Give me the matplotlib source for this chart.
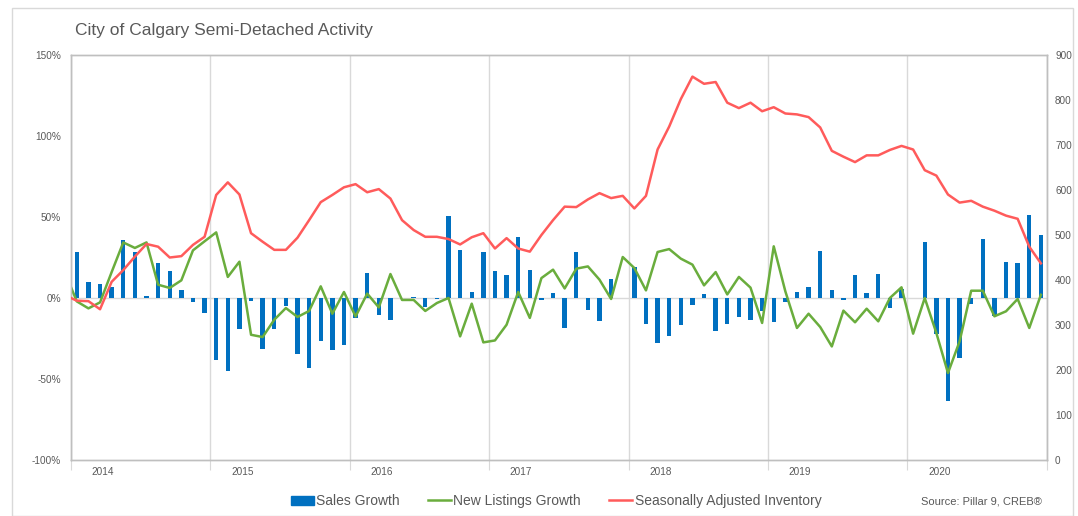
import numpy as np
import matplotlib
matplotlib.use('Agg')
import matplotlib.pyplot as plt
from matplotlib.patches import Patch, Rectangle
from matplotlib.lines import Line2D
from matplotlib.ticker import FuncFormatter

plt.rcParams['font.family'] = ['Liberation Sans', 'DejaVu Sans']

years = [2014, 2015, 2016, 2017, 2018, 2019, 2020]

# monthly sales growth (%), Jan 2014 - Dec 2020
sales_growth = [
    28.4, 10.1, 8.6, 7.0, 35.6, 28.2, 1.4, 21.6, 16.7, 4.7, -2.5, -9.5,
    -38.1, -45.1, -19.4, -1.9, -31.5, -19.0, -5.2, -34.6, -43.2, -26.3, -31.9, -29.3,
    -12.2, 15.6, -10.3, -13.8, 0.0, 0.6, -5.6, -0.5, 50.4, 29.8, 3.7, 28.4,
    16.9, 14.4, 37.4, 17.5, -1.2, 3.1, -18.8, 28.3, -7.1, -14.4, 11.5, 0.0,
    19.1, -15.8, -27.7, -23.6, -16.6, -4.1, 2.6, -20.4, -15.9, -12.0, -13.6, -8.2,
    -15.0, -2.5, 3.4, 7.0, 28.8, 4.9, -1.2, 14.2, 3.1, 15.0, -6.4, 5.7,
    0.0, 34.8, -22.2, -63.8, -36.8, -3.5, 36.4, -11.3, 22.2, 21.4, 51.2, 38.9,
]

# new listings growth (%), Dec 2013 - Dec 2020
new_listings_growth = [
    15.4,
    -2.1, -6.4, -2.7, 16.0, 34.3, 30.9, 34.3, 8.2, 6.2, 10.9, 29.4, 35.0,
    40.5, 13.0, 22.4, -22.7, -24.1, -13.4, -6.2, -11.7, -8.0, 7.2, -9.7, 3.7,
    -11.4, 2.7, -5.8, 14.8, -1.2, -1.2, -8.0, -3.1, 0.0, -23.7, -3.5, -27.4,
    -26.2, -16.5, 3.7, -12.3, 12.3, 17.5, 5.9, 18.1, 19.5, 11.3, -0.6, 25.3,
    18.5, 4.7, 28.4, 30.2, 24.3, 20.6, 7.8, 16.0, 2.2, 13.0, 6.4, -15.4,
    31.9, 4.1, -18.5, -9.7, -17.9, -29.9, -7.8, -15.0, -6.6, -14.4, 0.0, 6.6,
    -22.0, 0.0, -21.6, -46.3, -26.8, 4.5, 4.5, -11.3, -8.2, -0.6, -18.5, 2.0,
]

# seasonally adjusted inventory (units), Dec 2013 - Dec 2020
inventory = [
    366,
    354, 353, 335, 396, 422, 452, 480, 474, 450, 453, 478, 496,
    589, 617, 590, 504, 485, 467, 467, 494, 533, 573, 589, 606,
    613, 595, 602, 581, 533, 511, 496, 496, 491, 479, 495, 504,
    470, 493, 470, 463, 500, 533, 563, 562, 579, 593, 582, 587,
    559, 587, 690, 741, 802, 852, 836, 840, 794, 782, 794, 775,
    784, 770, 768, 762, 739, 687, 674, 662, 677, 677, 689, 698,
    690, 644, 632, 590, 572, 576, 563, 554, 543, 536, 474, 437,
]

W, H = 1078, 516
fig = plt.figure(figsize=(W / 100, H / 100), dpi=100)
ax = fig.add_axes([71 / W, 1 - 460 / H, (1046.7 - 71) / W, (460 - 55) / H])

grey = '#595959'
light = '#d9d9d9'

x_bar = np.arange(len(sales_growth))
x_line = np.arange(-1, len(sales_growth))

ax.bar(x_bar, sales_growth, width=0.38, color='#0070c0', linewidth=0, zorder=2)
ax.axhline(0, color=light, lw=1, zorder=1)
ax.plot(x_line, new_listings_growth, color='#6aad3d', lw=1.8, zorder=3)

ax.set_xlim(-0.5, len(sales_growth) - 0.5)
ax.set_ylim(-100, 150)
ax.set_yticks(np.arange(-100, 151, 50))
ax.yaxis.set_major_formatter(FuncFormatter(lambda v, p: f'{v:.0f}%'))

# year boundaries as major ticks/grid, year names as minor ticks
ax.set_xticks(np.arange(-0.5, len(sales_growth), 12))
ax.set_xticklabels([])
ax.set_xticks([12 * k + 2.25 for k in range(len(years))], minor=True)
ax.set_xticklabels([str(y) for y in years], minor=True)
ax.grid(axis='x', which='major', color=light, lw=1, zorder=0)
ax.tick_params(axis='x', which='major', length=7, color=light)
ax.tick_params(axis='x', which='minor', length=0, pad=5, labelsize=7.2, labelcolor=grey)
ax.tick_params(axis='y', length=0, pad=7, labelsize=7.2, labelcolor=grey)

ax2 = ax.twinx()
ax2.plot(x_line, inventory, color='#ff5b5b', lw=1.8, zorder=3)
ax2.set_ylim(0, 900)
ax2.set_yticks(np.arange(0, 901, 100))
ax2.tick_params(axis='y', length=0, pad=6, labelsize=7.2, labelcolor=grey)

for a in (ax, ax2):
    for s in a.spines.values():
        s.set_color('#bfbfbf')
        s.set_linewidth(1)

fig.text(75 / W, 1 - 31 / H, 'City of Calgary Semi-Detached Activity',
         fontsize=12.5, color=grey, va='center', ha='left')

handles = [Patch(color='#0070c0'),
           Line2D([], [], color='#6aad3d', lw=1.8),
           Line2D([], [], color='#ff5b5b', lw=1.8)]
labels = ['Sales Growth', 'New Listings Growth', 'Seasonally Adjusted Inventory']
fig.legend(handles, labels, loc='center', bbox_to_anchor=(556 / W, 1 - 501 / H),
           ncol=3, frameon=False, fontsize=10, labelcolor=grey,
           handlelength=1.7, handleheight=0.6, handletextpad=0.15, columnspacing=2.0)

fig.text(1042 / W, 1 - 501 / H, 'Source: Pillar 9, CREB\u00ae', fontsize=8,
         color=grey, ha='right', va='center')

fig.patches.append(Rectangle((12 / W, 0), (1073 - 12) / W, 1 - 8 / H,
                             transform=fig.transFigure, fill=False,
                             edgecolor=light, lw=1))

fig.savefig('out.png', dpi=100)
